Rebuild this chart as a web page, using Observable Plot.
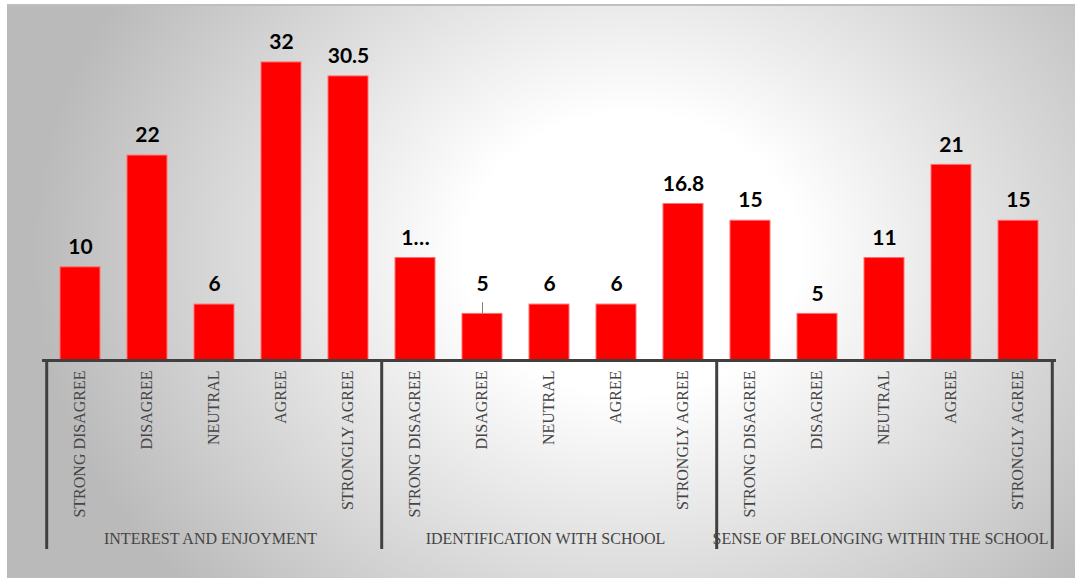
<!DOCTYPE html>
<html>
<head>
<meta charset="utf-8">
<script src="https://cdn.jsdelivr.net/npm/d3@7"></script>
<script src="https://cdn.jsdelivr.net/npm/@observablehq/plot@0.6"></script>
<style>
  html, body { margin: 0; padding: 0; background: #ffffff; }
  #frame {
    position: absolute; left: 7px; top: 4px; width: 1068px; height: 574px;
    background: radial-gradient(ellipse 600px 500px at 625px 250px, #ffffff 28%, #bababa 100%);
    box-shadow: inset 0 2px 0 #bfbfbf;
    overflow: hidden;
  }
  #frame svg { background: transparent !important; }
</style>
</head>
<body>
<div id="frame"></div>
<script>
// ---- data ----
const groups = ["INTEREST AND ENJOYMENT", "IDENTIFICATION WITH SCHOOL", "SENSE OF BELONGING WITHIN THE SCHOOL"];
const responses = ["STRONG DISAGREE", "DISAGREE", "NEUTRAL", "AGREE", "STRONGLY AGREE"];
const interestValues = [10, 22, 6, 32, 30.5];
const identificationValues = [11, 5, 6, 6, 16.8];
const belongingValues = [15, 5, 11, 21, 15];
const interestLabels = ["10", "22", "6", "32", "30.5"];
const identificationLabels = ["1…", "5", "6", "6", "16.8"];
const belongingLabels = ["15", "5", "11", "21", "15"];
const leaderKeys = ["IDENTIFICATION WITH SCHOOL|DISAGREE"];

// ---- build table ----
const seriesValues = [interestValues, identificationValues, belongingValues];
const seriesLabels = [interestLabels, identificationLabels, belongingLabels];
const rows = [];
groups.forEach((g, gi) => responses.forEach((r, ri) => rows.push({
  group: g, response: r, key: g + "|" + r,
  value: seriesValues[gi][ri], label: seriesLabels[gi][ri]
})));
const keys = rows.map(d => d.key);
const firstKeys = groups.map(g => g + "|" + responses[0]);
const lastKey = keys[keys.length - 1];
const middleKeys = groups.map(g => g + "|" + responses[2]);

const W = 1068, H = 574, mL = 35, mR = 19;
const step = (W - mL - mR) / keys.length;
const yBottom = -20.3;
const axisColor = "#404040";
const serif = "'Liberation Serif', 'DejaVu Serif', serif";
const sans = "Lato, 'Open Sans', sans-serif";

const chart = Plot.plot({
  width: W, height: H,
  marginLeft: mL, marginRight: mR, marginTop: 30, marginBottom: 29,
  style: {background: "transparent", overflow: "visible"},
  x: {type: "band", domain: keys, paddingInner: 0.4, paddingOuter: 0.2, axis: null},
  y: {domain: [yBottom, 35], axis: null},
  marks: [
    Plot.barY(rows, {x: "key", y: "value", fill: "#ff0000", stroke: "#ff7070", strokeWidth: 1}),
    Plot.ruleY([0], {stroke: axisColor, strokeWidth: 3}),
    Plot.ruleX(firstKeys, {x: d => d, y1: 0, y2: yBottom, dx: -step / 2, stroke: axisColor, strokeWidth: 3}),
    Plot.ruleX([lastKey], {x: d => d, y1: 0, y2: yBottom, dx: step / 2, stroke: axisColor, strokeWidth: 3}),
    // value labels
    Plot.text(rows.filter(d => !leaderKeys.includes(d.key)), {
      x: "key", y: "value", text: "label", dy: -20, lineAnchor: "middle",
      fontFamily: sans, fontWeight: "bold", fontSize: 21, fill: "#000"
    }),
    Plot.text(rows.filter(d => leaderKeys.includes(d.key)), {
      x: "key", y: "value", text: "label", dy: -30, lineAnchor: "middle",
      fontFamily: sans, fontWeight: "bold", fontSize: 21, fill: "#000"
    }),
    Plot.ruleX(rows.filter(d => leaderKeys.includes(d.key)), {
      x: "key", y1: "value", y2: d => d.value + 1.2, stroke: "#7f7f7f", strokeWidth: 1
    }),
    // category tick labels (rotated)
    Plot.text(rows, {
      x: "key", y: 0, text: "response", rotate: -90, textAnchor: "end", lineAnchor: "middle",
      dx: -1, dy: 10, fontFamily: serif, fontSize: 16, fill: "#454545"
    }),
    // group labels
    Plot.text(groups, {
      x: (g, i) => middleKeys[i], y: 0, text: d => d, dy: 178, dx: -4, lineAnchor: "middle",
      fontFamily: serif, fontSize: 16, fill: "#454545"
    })
  ]
});
document.getElementById("frame").appendChild(chart);
</script>
</body>
</html>
